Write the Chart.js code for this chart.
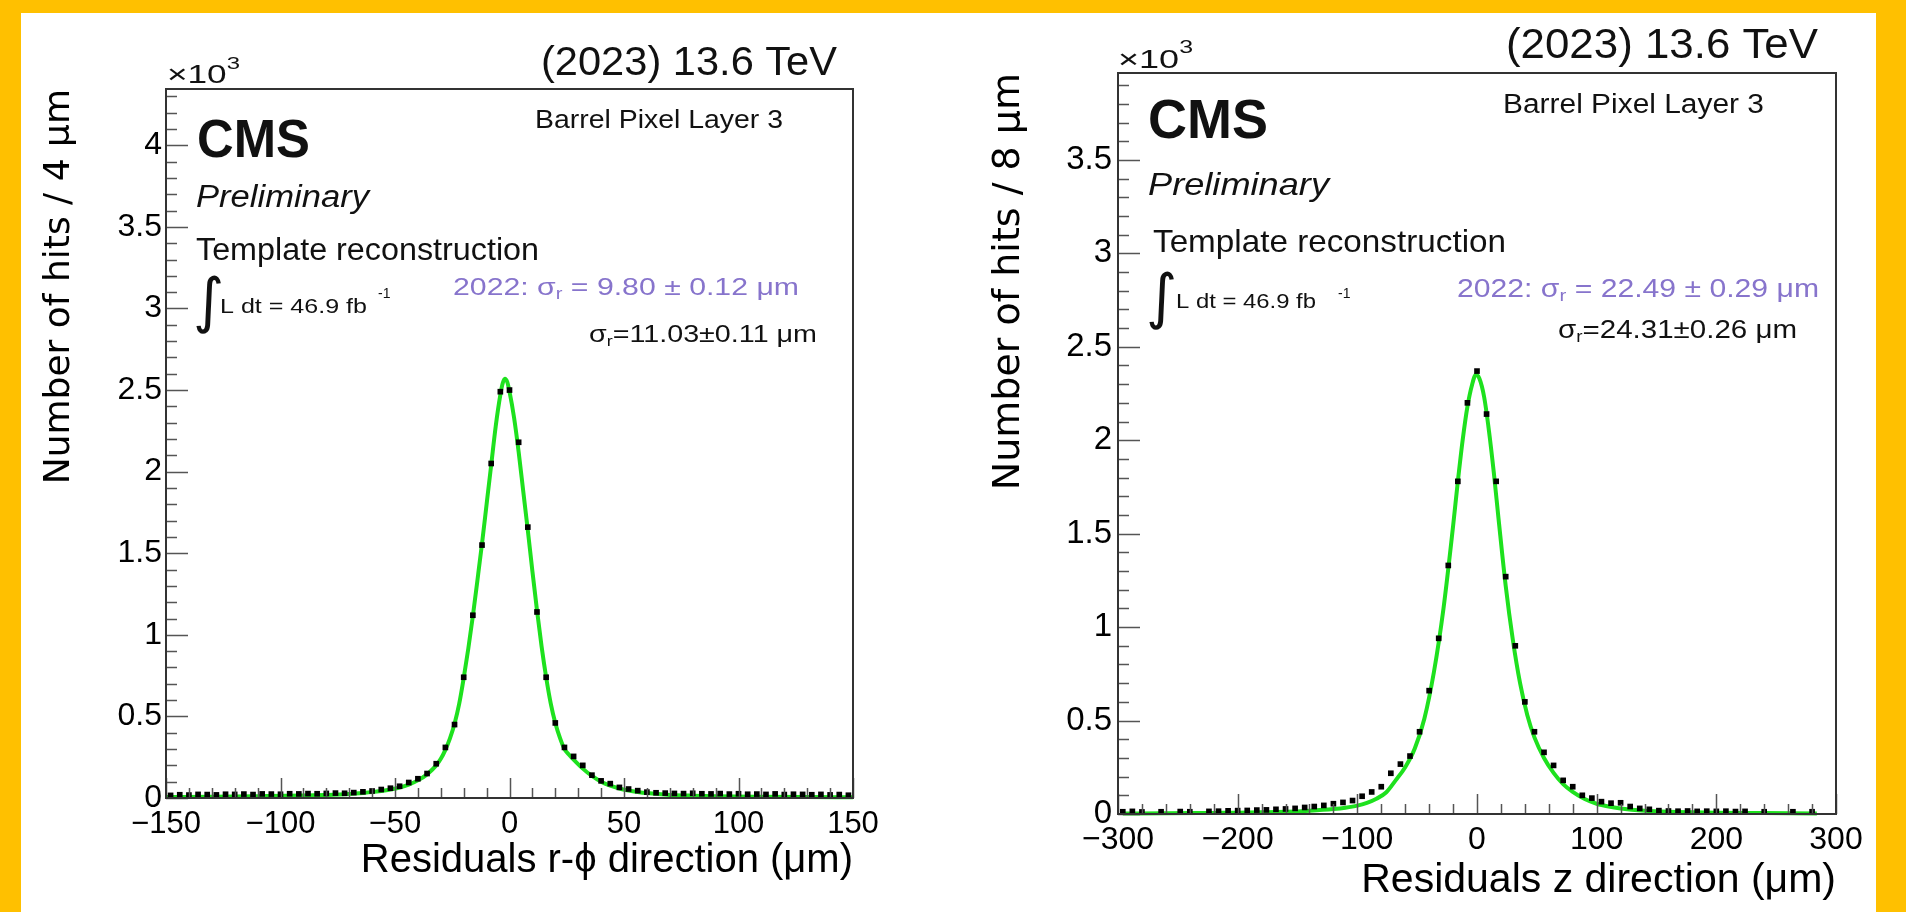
<!DOCTYPE html>
<html>
<head>
<meta charset="utf-8">
<title>Barrel Pixel Layer 3 residuals</title>
<script src="https://cdn.jsdelivr.net/npm/chart.js@4.4.0/dist/chart.umd.min.js"></script>
<style>
  html, body { margin: 0; padding: 0; width: 1906px; height: 912px; overflow: hidden; background: #ffc000; }
  #sheet { position: absolute; left: 21px; top: 13px; width: 1855px; height: 899px; background: #fff; overflow: hidden; }
  canvas { position: absolute; top: 0; }
  #leftPlot { left: 0; }
  #rightPlot { left: 900px; }
</style>
</head>
<body>
<div id="sheet">
  <canvas id="leftPlot" width="900" height="899"></canvas>
  <canvas id="rightPlot" width="955" height="899"></canvas>
</div>
<script>
// --- Data: r-phi residuals, 4 um bins ---
const rphiCenters = [
  -148, -144, -140, -136, -132, -128, -124, -120, -116, -112,
  -108, -104, -100, -96, -92, -88, -84, -80, -76, -72,
  -68, -64, -60, -56, -52, -48, -44, -40, -36, -32,
  -28, -24, -20, -16, -12, -8, -4, 0, 4, 8,
  12, 16, 20, 24, 28, 32, 36, 40, 44, 48,
  52, 56, 60, 64, 68, 72, 76, 80, 84, 88,
  92, 96, 100, 104, 108, 112, 116, 120, 124, 128,
  132, 136, 140, 144, 148
];
const rphiCounts = [
  16, 20, 18, 22, 21, 19, 23, 22, 24, 21,
  25, 24, 23, 26, 25, 27, 26, 28, 30, 29,
  33, 38, 43, 52, 60, 72, 95, 118, 150, 210,
  310, 450, 740, 1120, 1550, 2050, 2490, 2500, 2180, 1660,
  1140, 740, 460, 310, 255, 200, 140, 105, 88, 65,
  55, 45, 36, 32, 30, 28, 27, 29, 26, 25,
  27, 24, 26, 23, 24, 22, 25, 21, 23, 22,
  20, 22, 19, 21, 17
];
// fitted curve
const rphiFitX = [
  -150, -130, -110, -90, -80, -70, -64, -60, -56, -52,
  -48, -44, -40, -36, -32, -30, -28, -26, -24, -22,
  -20, -18, -16, -14, -12, -10, -8, -6, -4, -3,
  -2, -1, 0, 2, 4, 6, 8, 10, 12, 14,
  16, 18, 20, 22, 24, 26, 28, 32, 36, 40,
  44, 48, 52, 56, 60, 70, 80, 90, 110, 130,
  150
];
const rphiFitY = [
  6, 8, 11, 15, 19, 25, 31, 36, 43, 52,
  64, 82, 108, 145, 200, 240, 295, 365, 455, 575,
  735, 915, 1115, 1335, 1560, 1800, 2040, 2280, 2470, 2540,
  2570, 2550, 2490, 2330, 2120, 1880, 1640, 1390, 1150, 930,
  740, 580, 460, 370, 300, 265, 235, 180, 135, 100,
  76, 58, 46, 37, 30, 19, 14, 11, 8, 6,
  5
];
const rphiTicksX = [-150, -100, -50, 0, 50, 100, 150];
const rphiTicksY = [0, 500, 1000, 1500, 2000, 2500, 3000, 3500, 4000];

// --- Data: z residuals, 8 um bins (null = empty bin) ---
const zCenters = [
  -296, -288, -280, -272, -264, -256, -248, -240, -232, -224,
  -216, -208, -200, -192, -184, -176, -168, -160, -152, -144,
  -136, -128, -120, -112, -104, -96, -88, -80, -72, -64,
  -56, -48, -40, -32, -24, -16, -8, 0, 8, 16,
  24, 32, 40, 48, 56, 64, 72, 80, 88, 96,
  104, 112, 120, 128, 136, 144, 152, 160, 168, 176,
  184, 192, 200, 208, 216, 224, 232, 240, 248, 256,
  264, 272, 280, 288, 296
];
const zCounts = [
  12, 14, 11, null, 12, null, 13, 12, null, 14,
  15, 17, 18, 19, 21, 22, 25, 27, 30, 35,
  40, 46, 55, 62, 72, 95, 118, 146, 218, 267,
  310, 440, 660, 940, 1330, 1780, 2200, 2370, 2140, 1780,
  1270, 900, 600, 440, 330, 260, 180, 146, 100, 85,
  66, 58, 60, 40, 30, 25, 18, 16, 15, 16,
  14, 15, 14, 15, 13, 14, null, 12, null, null,
  12, null, 12, null, null
];
const zFitX = [
  -296, -260, -220, -200, -180, -160, -140, -120, -110, -100,
  -92, -84, -76, -68, -60, -52, -44, -36, -28, -20,
  -16, -12, -8, -4, -1, 2, 6, 10, 14, 18,
  24, 30, 36, 42, 48, 56, 64, 72, 80, 90,
  100, 110, 120, 140, 160, 180, 200, 240, 284
];
const zFitY = [
  3, 4, 6, 7, 9, 12, 18, 27, 34, 45,
  60, 82, 115, 180, 250, 350, 510, 760, 1100, 1540,
  1780, 2000, 2180, 2300, 2350, 2330, 2230, 2050, 1830, 1580,
  1220, 930, 700, 530, 410, 300, 220, 160, 118, 80,
  55, 40, 30, 18, 12, 9, 7, 5, 3
];
const zTicksX = [-300, -200, -100, 0, 100, 200, 300];
const zTicksY = [0, 500, 1000, 1500, 2000, 2500, 3000, 3500];

const SANS = '"Liberation Sans", Arial, sans-serif';
const PURPLE = '#8774cc';

// --- Text boxes drawn on the pads (canvas pixels) ---
const leftNotes = [
  { text: '(2023) 13.6 TeV', font: '41px ' + SANS, x: 520, y: 62, w: 296 },
  { parts: [{ text: '×10' }, { text: '3', font: '17px ' + SANS, dy: -14 }], font: '25px ' + SANS, x: 146, y: 70, w: 73 },
  { text: 'CMS', font: 'bold 53px ' + SANS, x: 176, y: 144, w: 113 },
  { text: 'Barrel Pixel Layer 3', font: '26px ' + SANS, x: 514, y: 115, w: 248 },
  { text: 'Preliminary', font: 'italic 31px ' + SANS, x: 175, y: 194, w: 173 },
  { text: 'Template reconstruction', font: '31px ' + SANS, x: 175, y: 247, w: 343 },
  { text: '∫', font: '60px "DejaVu Sans"', x: 172, y: 308 },
  { text: 'L dt = 46.9 fb', font: '21px ' + SANS, x: 199, y: 300, w: 147 },
  { text: '-1', font: '14px ' + SANS, x: 357, y: 285 },
  { parts: [{ text: '2022: σ' }, { text: 'r', font: '16px ' + SANS, dy: 4 }, { text: ' = 9.80 ± 0.12 μm' }],
    font: '24px ' + SANS, color: PURPLE, x: 432, y: 282, w: 346 },
  { parts: [{ text: 'σ' }, { text: 'r', font: '15px ' + SANS, dy: 4 }, { text: '=11.03±0.11 μm' }],
    font: '24px ' + SANS, x: 568, y: 329, w: 228 }
];

const rightNotes = [
  { text: '(2023) 13.6 TeV', font: '43px ' + SANS, x: 585, y: 45, w: 312 },
  { parts: [{ text: '×10' }, { text: '3', font: '18px ' + SANS, dy: -15 }], font: '26px ' + SANS, x: 197, y: 55, w: 75 },
  { text: 'CMS', font: 'bold 55px ' + SANS, x: 227, y: 125, w: 120 },
  { text: 'Barrel Pixel Layer 3', font: '27px ' + SANS, x: 582, y: 100, w: 261 },
  { text: 'Preliminary', font: 'italic 32px ' + SANS, x: 227, y: 182, w: 181 },
  { text: 'Template reconstruction', font: '32px ' + SANS, x: 232, y: 239, w: 353 },
  { text: '∫', font: '60px "DejaVu Sans"', x: 225, y: 304 },
  { text: 'L dt = 46.9 fb', font: '21px ' + SANS, x: 255, y: 295, w: 140 },
  { text: '-1', font: '14px ' + SANS, x: 417, y: 285 },
  { parts: [{ text: '2022: σ' }, { text: 'r', font: '17px ' + SANS, dy: 4 }, { text: ' = 22.49 ± 0.29 μm' }],
    font: '25px ' + SANS, color: PURPLE, x: 536, y: 284, w: 362 },
  { parts: [{ text: 'σ' }, { text: 'r', font: '16px ' + SANS, dy: 4 }, { text: '=24.31±0.26 μm' }],
    font: '25px ' + SANS, x: 637, y: 325, w: 239 }
];

// draw a (possibly mixed-size) text run, squeezed/stretched to width w
function drawNote(ctx, n) {
  const parts = n.parts || [{ text: n.text }];
  ctx.save();
  let natural = 0;
  parts.forEach(p => { ctx.font = p.font || n.font; natural += ctx.measureText(p.text).width; });
  ctx.translate(n.x, n.y);
  ctx.scale(n.w ? n.w / natural : 1, 1);
  ctx.fillStyle = n.color || '#111';
  ctx.textBaseline = 'alphabetic';
  ctx.textAlign = 'left';
  let cx = 0;
  parts.forEach(p => {
    ctx.font = p.font || n.font;
    ctx.fillText(p.text, cx, p.dy || 0);
    cx += ctx.measureText(p.text).width;
  });
  ctx.restore();
}

// ROOT-style frame: inside ticks on the bottom/left axes plus a box
function rootPad(notes, t) {
  return {
    id: 'rootPad',
    afterDatasetsDraw(chart) {
      const { ctx, chartArea: a, scales: { x, y } } = chart;
      ctx.save();
      ctx.strokeStyle = '#555';
      ctx.lineWidth = 1.5;
      ctx.beginPath();
      for (let v = x.min; v <= x.max + 1e-6; v += t.xMinor) {
        const px = Math.round(x.getPixelForValue(v)) + 0.5;
        const len = Math.abs(v % t.xMajor) < 1e-6 ? 20 : 10;
        ctx.moveTo(px, a.bottom);
        ctx.lineTo(px, a.bottom - len);
      }
      for (let v = 0; v <= y.max + 1e-6; v += 100) {
        const py = Math.round(y.getPixelForValue(v)) + 0.5;
        const len = v % 500 === 0 ? 22 : 11;
        ctx.moveTo(a.left, py);
        ctx.lineTo(a.left + len, py);
      }
      ctx.stroke();
      ctx.strokeStyle = '#333';
      ctx.lineWidth = 2;
      ctx.strokeRect(a.left, a.top, a.right - a.left, a.bottom - a.top);
      ctx.restore();
    },
    afterDraw(chart) {
      notes.forEach(n => drawNote(chart.ctx, n));
    }
  };
}

function minusFmt(v) {
  return v < 0 ? '\u2212' + Math.abs(v) : String(v);
}

function makePad(id, c) {
  const points = [];
  c.centers.forEach((x, i) => { if (c.counts[i] !== null) points.push({ x: x, y: c.counts[i] }); });
  const curve = c.fitX.map((x, i) => ({ x: x, y: c.fitY[i] }));

  return new Chart(document.getElementById(id), {
    type: 'scatter',
    data: {
      datasets: [
        {
          label: 'Data',
          data: points,
          pointStyle: 'rect',
          pointRadius: 4,
          backgroundColor: '#000',
          borderColor: '#000',
          borderWidth: 0,
          showLine: false,
          clip: false
        },
        {
          label: 'Fit',
          data: curve,
          showLine: true,
          pointRadius: 0,
          borderColor: 'rgb(30,225,30)',
          borderWidth: 4,
          cubicInterpolationMode: 'monotone',
          clip: false
        }
      ]
    },
    options: {
      responsive: false,
      animation: false,
      devicePixelRatio: 1,
      events: [],
      layout: { padding: { top: c.padTop, right: c.padRight, left: 0, bottom: 0 } },
      plugins: { legend: { display: false }, tooltip: { enabled: false } },
      scales: {
        x: {
          type: 'linear',
          min: c.xMin,
          max: c.xMax,
          afterBuildTicks: s => { s.ticks = c.ticksX.map(v => ({ value: v })); },
          afterFit: s => { s.height = c.xHeight; },
          grid: { display: false, drawTicks: false },
          border: { display: false },
          ticks: {
            autoSkip: false,
            maxRotation: 0,
            padding: c.xTickPad,
            color: '#000',
            font: { family: SANS, size: c.xTickSize },
            callback: v => minusFmt(v)
          },
          title: {
            display: true,
            text: c.xTitle,
            align: 'end',
            color: '#000',
            font: { family: SANS, size: c.xTitleSize, lineHeight: 1.2 },
            padding: { top: 0, bottom: c.xTitlePad }
          }
        },
        y: {
          type: 'linear',
          min: 0,
          max: c.yMax,
          afterBuildTicks: s => { s.ticks = c.ticksY.map(v => ({ value: v })); },
          afterFit: s => { s.width = c.yWidth; },
          grid: { display: false, drawTicks: false },
          border: { display: false },
          ticks: {
            autoSkip: false,
            padding: c.yTickPad,
            color: '#000',
            font: { family: SANS, size: c.yTickSize },
            callback: v => String(v / 1000)
          },
          title: {
            display: true,
            text: c.yTitle,
            align: 'end',
            color: '#000',
            font: { family: '"DejaVu Sans"', size: c.yTitleSize, lineHeight: 1.2 },
            padding: { top: c.yTitlePad, bottom: 0 }
          }
        }
      }
    },
    plugins: [rootPad(c.notes, { xMinor: c.xMinor, xMajor: c.xStep })]
  });
}

makePad('leftPlot', {
  centers: rphiCenters, counts: rphiCounts, fitX: rphiFitX, fitY: rphiFitY,
  ticksX: rphiTicksX, ticksY: rphiTicksY, notes: leftNotes,
  padTop: 76, padRight: 68, xHeight: 114, yWidth: 145,
  xMin: -150, xMax: 150, xStep: 50, xMinor: 10, yMax: 4345,
  xTickSize: 31, xTickPad: 8, yTickSize: 32, yTickPad: 4,
  xTitle: 'Residuals r-\u03d5 direction (\u03bcm)', xTitleSize: 40, xTitlePad: 27,
  yTitle: 'Number of hits / 4 \u03bcm', yTitleSize: 36, yTitlePad: 17
});

makePad('rightPlot', {
  centers: zCenters, counts: zCounts, fitX: zFitX, fitY: zFitY,
  ticksX: zTicksX, ticksY: zTicksY, notes: rightNotes,
  padTop: 60, padRight: 40, xHeight: 98, yWidth: 197,
  xMin: -300, xMax: 300, xStep: 100, xMinor: 20, yMax: 3965,
  xTickSize: 32, xTickPad: 7, yTickSize: 33, yTickPad: 6,
  xTitle: 'Residuals z direction (\u03bcm)', xTitleSize: 41, xTitlePad: 7,
  yTitle: 'Number of hits / 8 \u03bcm', yTitleSize: 38, yTitlePad: 65
});
</script>
</body>
</html>
